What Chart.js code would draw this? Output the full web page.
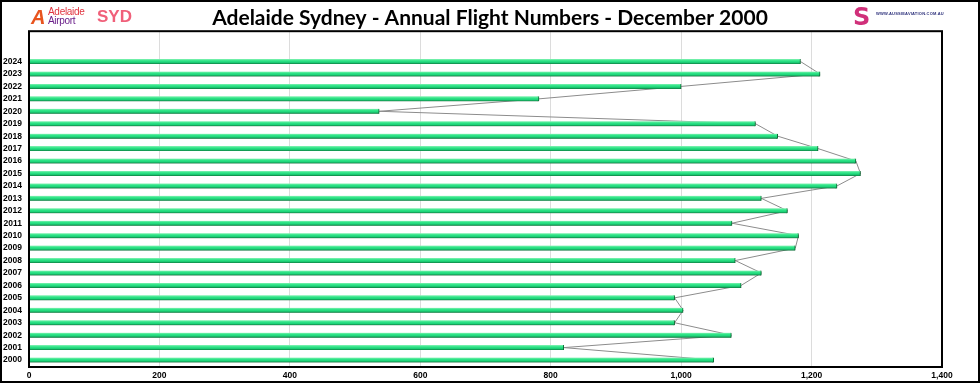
<!DOCTYPE html>
<html>
<head>
<meta charset="utf-8">
<script src="https://cdn.jsdelivr.net/npm/chart.js@4.4.1/dist/chart.umd.min.js"></script>
<style>
  html, body { margin: 0; padding: 0; background: #fff; }
  #wrap { position: relative; width: 980px; height: 383px; }
  #myChart { position: absolute; left: 0; top: 0; }
  .logo { position: absolute; font-family: "Liberation Sans", Arial, sans-serif; }
  #adl { left: 48px; top: 7px; font-size: 10px; line-height: 9px; letter-spacing: -0.3px; }
  #adl .a1 { color: #e0333f; }
  #adl .a2 { color: #6a1f8a; }
  #adlIcon { left: 31px; top: 8px; font-size: 20px; font-weight: bold; color: #e8541e; line-height: 18px; font-style: italic; }
  #syd { left: 97px; top: 7px; font-size: 17px; font-weight: bold; color: #f0607a; }
  #aussie { left: 876px; top: 11px; font-size: 4px; color: #2b2f7a; font-weight: bold; letter-spacing: 0.2px; }
  #aussieIcon { left: 853px; top: 3px; font-size: 24px; font-weight: bold; color: #d0307a; font-family: "DejaVu Sans", sans-serif; }
</style>
</head>
<body>
<div id="wrap">
  <canvas id="myChart" width="980" height="383"></canvas>
  <div class="logo" id="adlIcon">A</div>
  <div class="logo" id="adl"><div class="a1">Adelaide</div><div class="a2">Airport</div></div>
  <div class="logo" id="syd">SYD</div>
  <div class="logo" id="aussieIcon">S</div>
  <div class="logo" id="aussie">WWW.AUSSIEAVIATION.COM.AU</div>
</div>
<script>
const years = [2000, 2001, 2002, 2003, 2004, 2005, 2006, 2007, 2008, 2009, 2010, 2011, 2012,
  2013, 2014, 2015, 2016, 2017, 2018, 2019, 2020, 2021, 2022, 2023, 2024];
const flights = [1050, 820, 1077, 990, 1003, 990, 1092, 1123, 1083, 1175, 1180, 1078, 1163,
  1123, 1239, 1275, 1268, 1210, 1148, 1114, 537, 782, 1000, 1213, 1183];
const xTicks = [0, 200, 400, 600, 800, 1000, 1200, 1400];

const points = years.map((y, i) => ({ x: flights[i], y: y }));

const canvas = document.getElementById("myChart");
const ctx = canvas.getContext("2d");

// green tube look for each bar
function barFill(context) {
  const chart = context.chart;
  if (!chart.chartArea || !context.raw) return '#22e080';
  const yp = chart.scales.y.getPixelForValue(context.raw.y);
  const g = chart.ctx.createLinearGradient(0, yp - 2.5, 0, yp + 2.5);
  g.addColorStop(0, '#85f2b4');
  g.addColorStop(0.35, '#2fe587');
  g.addColorStop(0.65, '#1ed57a');
  g.addColorStop(1, '#0f7d41');
  return g;
}

const frame = {
  id: 'frame',
  beforeDatasetDraw(chart, args) {
    if (args.index === 0) {
      chart.ctx.save();
      chart.ctx.shadowColor = 'rgba(0,0,0,0.22)';
      chart.ctx.shadowOffsetY = 2;
      chart.ctx.shadowBlur = 0;
    }
  },
  afterDatasetDraw(chart, args) {
    if (args.index === 0) chart.ctx.restore();
  },
  afterDraw(chart) {
    const c = chart.ctx;
    const a = chart.chartArea;
    c.save();
    c.strokeStyle = '#000';
    c.lineWidth = 2;
    c.strokeRect(a.left, a.top, a.right - a.left, a.bottom - a.top);
    c.strokeRect(1, 1, chart.width - 2, chart.height - 2);
    c.restore();
  }
};

const chart = new Chart(ctx, {
  type: 'bar',
  data: {
    datasets: [
      {
        label: 'Flights',
        data: points,
        backgroundColor: barFill,
        borderColor: '#0b6b33',
        borderWidth: { top: 0, bottom: 0, left: 0, right: 1 },
        borderSkipped: false,
        barThickness: 5,
        order: 1,
      },
      {
        type: 'line',
        label: 'Trend',
        data: points,
        borderColor: '#8c8c8c',
        borderWidth: 1,
        pointRadius: 0,
        tension: 0,
        order: 2,
      },
    ],
  },
  options: {
    indexAxis: 'y',
    responsive: false,
    animation: false,
    devicePixelRatio: 1,
    layout: { padding: 0 },
    scales: {
      x: {
        type: 'linear',
        min: 0,
        max: 1400,
        afterBuildTicks: (scale) => { scale.ticks = xTicks.map(v => ({ value: v })); },
        afterFit: (scale) => { scale.height = 16; },
        grid: { color: '#dcdcdc', lineWidth: 1, drawTicks: false },
        border: { display: false },
        ticks: {
          color: '#000',
          padding: 4,
          maxRotation: 0,
          font: { family: 'Liberation Sans', size: 8.5, weight: 'bold' },
          callback: (v) => v.toLocaleString('en-US'),
        },
      },
      y: {
        type: 'linear',
        offset: false,
        min: 1999.44,
        max: 2026.44,
        afterBuildTicks: (scale) => { scale.ticks = years.map(v => ({ value: v })); },
        afterFit: (scale) => { scale.width = 29; },
        grid: { display: false, drawTicks: false, offset: false },
        border: { display: false },
        ticks: {
          color: '#000',
          padding: 7,
          font: { family: 'Liberation Sans', size: 8.5, weight: 'bold' },
          callback: (v) => String(v),
        },
      },
      // empty strip on the right so the plot ends where the reference does
      side: {
        type: 'linear',
        position: 'right',
        axis: 'y',
        afterFit: (scale) => { scale.width = 38; },
        grid: { display: false, drawTicks: false },
        border: { display: false },
        ticks: { display: false },
      },
    },
    plugins: {
      legend: { display: false },
      tooltip: { enabled: false },
      title: {
        display: true,
        text: 'Adelaide Sydney - Annual Flight Numbers - December 2000',
        color: '#000',
        font: { family: 'Lato', size: 21, weight: 'bold' },
        padding: { top: 6, bottom: 0 },
      },
    },
  },
  plugins: [frame],
});
</script>
</body>
</html>
